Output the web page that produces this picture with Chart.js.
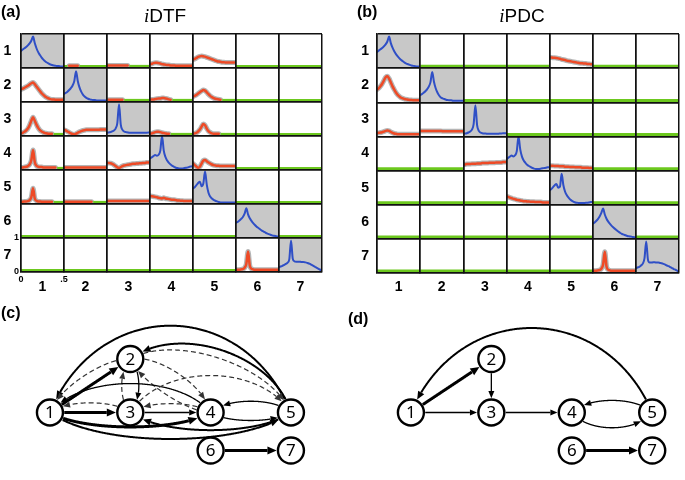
<!DOCTYPE html>
<html><head><meta charset="utf-8">
<title>iDTF and iPDC</title>
<script src="https://cdn.jsdelivr.net/npm/chart.js@4.4.1/dist/chart.umd.min.js"></script>
<style>
html,body{margin:0;padding:0;background:#fff}
body{position:relative;width:685px;height:480px;overflow:hidden;font-family:"Liberation Sans",Arial,sans-serif;color:#000}
canvas{position:absolute;display:block}
.pl{position:absolute;font-weight:bold;font-size:16px;line-height:16px;z-index:2}
.tt{position:absolute;font-size:19px;line-height:19px;text-align:center;z-index:2}
.tt i{font-family:"Liberation Serif",serif}
</style></head><body>
<canvas id="ca" width="335" height="300" style="left:0;top:0"></canvas>
<canvas id="cb" width="345" height="300" style="left:340px;top:0"></canvas>
<canvas id="cc" width="340" height="180" style="left:0;top:300px"></canvas>
<canvas id="cd" width="345" height="180" style="left:340px;top:300px"></canvas>
<div class="pl" style="left:1px;top:4px">(a)</div>
<div class="tt" style="left:0;top:6px;width:330px"><i>i</i>DTF</div>
<div class="pl" style="left:357px;top:4px">(b)</div>
<div class="tt" style="left:352px;top:6px;width:340px"><i>i</i>PDC</div>
<div class="pl" style="left:1px;top:305px">(c)</div>
<div class="pl" style="left:348px;top:311px">(d)</div>
<script>
// ---------- data ----------
const FREQ = [0,0.02,0.04,0.06,0.08,0.1,0.12,0.14,0.16,0.18,0.2,0.22,0.24,0.26,0.28,0.3,0.32,0.34,0.36,0.38,0.4,0.42,0.44,0.46,0.48,0.5];
const CHANNELS = ['1','2','3','4','5','6','7'];
const AXIS_TICKS_X = ['0', '.5'];
const AXIS_TICKS_Y = ['0', '1'];

// iDTF rows (cell = values over FREQ, null = not significant)
const DTF_ROW1 = [
  [0.48,0.52,0.56,0.6,0.65,0.71,0.79,0.92,0.72,0.56,0.44,0.35,0.27,0.21,0.16,0.12,0.09,0.06,0.04,0.03,0.02,0.01,0.01,0,0,0],
  [null,null,null,0.02,0.02,0.02,0.02,0.02,0.02],
  [0.03,0.03,0.03,0.03,0.03,0.03,0.03,0.03,0.03,0.03,0.03,0.03,0.03],
  [0.06,0.08,0.1,0.11,0.11,0.1,0.09,0.07,0.06,0.05,0.04,0.04,0.03,0.03,0.03,0.02,0.02,0.02,0.02,0.02,0.02,0.02,0.02,0.02,0.02,0.02],
  [0.21,0.23,0.26,0.29,0.31,0.32,0.31,0.3,0.28,0.26,0.24,0.22,0.2,0.18,0.16,0.15,0.14,0.13,0.13,0.12,0.12,0.12,0.12,0.12,0.12,0.12],
  null, null];
const DTF_ROW2 = [
  [0.34,0.36,0.39,0.42,0.45,0.49,0.53,0.55,0.5,0.43,0.36,0.29,0.22,0.17,0.12,0.09,0.06,0.04,0.03,0.03,0.02,0.02,0.02,0.02,0.02,0.02],
  [0.2,0.23,0.27,0.32,0.38,0.46,0.6,0.9,0.6,0.4,0.27,0.18,0.12,0.08,0.05,0.03,0.02,0.01,0.01,0,0,0,0,0,0,0],
  [null,0.02,0.02,0.02,0.02,0.02,0.02,0.02,0.02,0.02],
  [0.02,0.03,0.03,0.04,0.05,0.06,0.06,0.07,0.07,0.06,0.05,0.03,0.02],
  [0.12,0.14,0.17,0.21,0.25,0.29,0.32,0.3,0.25,0.19,0.14,0.1,0.07,0.05,0.04,0.03,0.02],
  null, null];
const DTF_ROW3 = [
  [0.03,0.05,0.08,0.12,0.18,0.28,0.42,0.53,0.42,0.3,0.2,0.13,0.09,0.06,0.04,0.03,0.02,0.02,0.02],
  [0.14,0.12,0.09,0.06,0.03,0.01,0,0.02,0.05,0.08,0.1,0.12,0.13,0.14,0.14,0.14,0.14,0.14,0.14,0.14,0.14,0.15,0.15,0.15,0.15,0.15],
  [0.05,0.06,0.07,0.09,0.12,0.18,0.35,0.93,0.3,0.14,0.09,0.07,0.06,0.05,0.05,0.05,0.05,0.05,0.05,0.05,0.05,0.05,0.05,0.05,0.06,0.06],
  [0.02,0.03,0.05,0.07,0.08,0.08,0.07,0.05,0.04,0.03,0.02,0.02],
  [0.02,0.03,0.05,0.09,0.15,0.24,0.32,0.28,0.18,0.1,0.06,0.03,0.02,0.02,0.02,0.02],
  null, null];
const DTF_ROW4 = [
  [0.03,0.03,0.04,0.05,0.07,0.12,0.25,0.57,0.2,0.08,0.05,0.04,0.04,0.03,0.03,0.03,0.03,0.03,0.03,0.03,0.03],
  [0.03,0.03,0.03,0.03,0.03,0.03,0.03,0.03,0.03,0.03,0.03,0.03,0.03,0.03,0.03,0.03,0.03,0.03,0.03,0.03,0.03,0.03,0.03,0.03,0.03,0.03],
  [0.17,0.17,0.16,0.14,0.11,0.07,0.03,0.01,0.04,0.07,0.09,0.1,0.11,0.12,0.13,0.14,0.14,0.15,0.15,0.16,0.16,0.17,0.17,0.18,0.18,0.18],
  [0.31,0.34,0.38,0.41,0.39,0.42,0.55,1.0,0.55,0.35,0.24,0.17,0.12,0.08,0.05,0.02,0.01,0,0,0,0.01,0.02,0.03,0.05,0.06,0.07],
  [0.15,0.1,0.05,0.02,0.05,0.15,0.24,0.26,0.22,0.18,0.15,0.12,0.1,0.09,0.08,0.08,0.07,0.07,0.07,0.07,0.07,0.07,0.07,0.07,0.07,0.07],
  null, null];
const DTF_ROW5 = [
  [0.02,0.02,0.03,0.03,0.04,0.07,0.16,0.44,0.12,0.05,0.03,0.03,0.02,0.02,0.02,0.02,0.02,0.02,0.02],
  [0.02,0.02,0.02,0.02,0.02,0.02,0.02,0.02,0.02,0.02,0.02,0.02,0.02,0.02,0.02,0.02,0.02],
  [0.04,0.04,0.04,0.04,0.04,0.04,0.04,0.04,0.04,0.04,0.04,0.04,0.04,0.04,0.04,0.04,0.04,0.04,0.04,0.04,0.04,0.04,0.04,0.04,0.04,0.04],
  [0.2,0.19,0.18,0.17,0.16,0.14,0.13,0.12,0.14,0.12,0.11,0.1,0.09,0.08,0.08,0.07,0.06,0.06,0.05,0.05,0.04,0.04,0.04,0.04,0.04,0.04],
  [0.43,0.47,0.53,0.6,0.64,0.5,0.58,0.95,0.55,0.3,0.18,0.12,0.08,0.05,0.03,0.01,0,0,0,0,0,0,0,0,0,0],
  null, null];
const DTF_ROW6 = [null, null, null, null, null,
  [0.42,0.45,0.49,0.54,0.6,0.7,0.87,0.68,0.56,0.48,0.41,0.35,0.3,0.26,0.22,0.18,0.15,0.12,0.09,0.07,0.05,0.03,0.02,0.01,0,0],
  null];
const DTF_ROW7 = [null, null, null, null, null,
  [0.02,0.02,0.02,0.03,0.04,0.08,0.2,0.58,0.15,0.05,0.03,0.02,0.02,0.02,0.02,0.02,0.02,0.02,0.02,0.02,0.02,0.02,0.02,0.02,0.02,0.02],
  [0.1,0.12,0.14,0.17,0.2,0.24,0.35,0.92,0.36,0.28,0.27,0.27,0.27,0.26,0.26,0.25,0.24,0.22,0.2,0.17,0.14,0.11,0.08,0.05,0.02,0]];

// iPDC rows
const PDC_ROW1 = [
  [0.45,0.49,0.53,0.57,0.62,0.68,0.77,0.92,0.72,0.58,0.47,0.38,0.31,0.25,0.2,0.16,0.12,0.09,0.07,0.05,0.03,0.02,0.01,0,0,0],
  null, null, null,
  [0.28,0.28,0.27,0.27,0.26,0.25,0.24,0.22,0.21,0.2,0.18,0.17,0.16,0.15,0.14,0.13,0.12,0.11,0.1,0.1,0.09,0.09,0.08,0.08,0.07,0.07],
  null, null];
const PDC_ROW2 = [
  [0.34,0.38,0.44,0.52,0.62,0.72,0.75,0.68,0.56,0.44,0.34,0.25,0.18,0.13,0.09,0.07,0.05,0.04,0.03,0.02,0.02,0.01,0.01,0.01,0.01,0.01],
  [0.17,0.2,0.24,0.29,0.35,0.43,0.57,0.88,0.58,0.38,0.25,0.16,0.1,0.07,0.05,0.03,0.02,0.01,0.01,0,0,0,0,0,0,0],
  null, null, null, null, null];
const PDC_ROW3 = [
  [0.05,0.06,0.07,0.08,0.1,0.12,0.13,0.12,0.09,0.06,0.04,0.03,0.02,0.02,0.02,0.02,0.02,0.02,0.02,0.02,0.02,0.02,0.02,0.02,0.02,0.02],
  [0.12,0.12,0.12,0.12,0.12,0.12,0.12,0.12,0.12,0.12,0.12,0.12,0.12,0.11,0.11,0.11,0.11,0.11,0.11,0.11,0.11,0.11,0.11,0.11,0.11,0.11],
  [0.03,0.04,0.05,0.07,0.1,0.16,0.33,0.91,0.3,0.12,0.07,0.05,0.04,0.04,0.03,0.03,0.03,0.03,0.03,0.03,0.03,0.04,0.04,0.05,0.05,0.05],
  null, null, null, null];
const PDC_ROW4 = [null, null,
  [0.14,0.14,0.15,0.15,0.15,0.16,0.16,0.16,0.17,0.17,0.17,0.18,0.18,0.18,0.18,0.19,0.19,0.19,0.19,0.2,0.2,0.2,0.2,0.21,0.21,0.21],
  [0.3,0.34,0.38,0.41,0.38,0.42,0.55,1.0,0.6,0.38,0.26,0.19,0.13,0.09,0.06,0.03,0.01,0,0,0,0.01,0.02,0.03,0.04,0.05,0.05],
  [0.1,0.1,0.1,0.09,0.09,0.09,0.08,0.08,0.08,0.07,0.07,0.07,0.06,0.06,0.06,0.05,0.05,0.05,0.05,0.04,0.04,0.04,0.04,0.03,0.03,0.03],
  null, null];
const PDC_ROW5 = [null, null, null,
  [0.21,0.19,0.17,0.15,0.13,0.12,0.1,0.09,0.08,0.07,0.06,0.06,0.05,0.05,0.04,0.04,0.04,0.03,0.03,0.03,0.03,0.02,0.02,0.02,0.02,0.02],
  [0.39,0.43,0.49,0.55,0.59,0.47,0.5,0.9,0.55,0.35,0.24,0.17,0.11,0.07,0.04,0.02,0.01,0,0,0,0,0.01,0.01,0.02,0.03,0.03],
  null, null];
const PDC_ROW6 = [null, null, null, null, null,
  [0.42,0.45,0.5,0.56,0.64,0.75,0.88,0.7,0.57,0.48,0.41,0.35,0.3,0.25,0.21,0.17,0.13,0.1,0.08,0.06,0.04,0.03,0.02,0.01,0,0],
  null];
const PDC_ROW7 = [null, null, null, null, null,
  [0.02,0.02,0.02,0.03,0.04,0.08,0.2,0.6,0.15,0.05,0.03,0.02,0.02,0.02,0.02,0.02,0.02,0.02,0.02,0.02,0.02,0.02,0.02,0.02,0.02,0.02],
  [0.1,0.12,0.14,0.18,0.24,0.4,0.92,0.36,0.27,0.27,0.28,0.28,0.27,0.27,0.26,0.25,0.23,0.21,0.18,0.16,0.13,0.1,0.07,0.05,0.02,0]];

// Network graphs (c) and (d)
const NODE_LABELS = ['1','2','3','4','5','6','7'];
const NODE_X = [0, 1, 1, 2, 3, 2, 3];
const NODE_Y = [0.52, 1.25, 0.52, 0.52, 0.52, 0, 0];
const EDGES_C = [[5,1],[5,2],[2,5],[2,4],[4,2],[2,1],[1,2],[2,3],[3,2],[4,1],[3,1],[1,3],[3,4],[4,3],[3,5],[5,4],[4,5],[1,4],[1,5],[5,3],[6,7]];
const EDGE_KIND_C = ['mid','mid','dash','dash','dash','dash','thick','thin','dash','thin','dash','thick','thin','dash','dash','thin','thin','thick','mid','mid','thick'];
const EDGES_D = [[5,1],[1,2],[2,3],[1,3],[3,4],[5,4],[4,5],[6,7]];
const EDGE_KIND_D = ['mid','thick','thin','thin','thin','thin','thin','thick'];

// ---------- styles / layout ----------
const EDGE_BEND_C = [-0.36,-0.22,0.17,0.15,0.1,-0.12,0,0.16,0.16,-0.18,-0.12,0,0,-0.11,0.23,-0.14,-0.1,-0.09,-0.11,0.11,0];
const EDGE_BEND_D = [-0.35,0,0,0,0,-0.15,-0.19,0];
const EDGE_STYLE = {
  thick: {w: 3, dash: [], color: '#000', al: 9, aw: 4},
  mid:   {w: 2, dash: [], color: '#000', al: 8, aw: 3.5},
  thin:  {w: 1.3, dash: [], color: '#000', al: 7, aw: 3},
  dash:  {w: 1.2, dash: [5, 3], color: '#333', al: 7, aw: 3}
};
const Y_MIN = -0.05, Y_MAX = 1;
const COL = {blue: '#2f4fc6', red: '#ee4a26', green: '#6cc81e', gray: '#c8c8c8', shadow: 'rgba(90,90,90,0.45)', line: '#111'};
const FAMILY = "'Liberation Sans', Arial, sans-serif";

function panelDatasets(rows, greenWidth) {
  const ds = [];
  const series = v => FREQ.map((f, i) => ({x: f, y: v[i] == null ? null : v[i]}));
  rows.forEach((row, r) => row.forEach((vals, c) => {
    const ax = {xAxisID: 'x' + (c + 1), yAxisID: 'y' + (r + 1)};
    const base = {showLine: true, pointRadius: 0, spanGaps: false, cubicInterpolationMode: 'monotone', borderCapStyle: 'round', borderJoinStyle: 'round'};
    if (r === c) {
      ds.push(Object.assign({}, ax, {data: [{x: FREQ[0], y: Y_MAX}, {x: FREQ[FREQ.length - 1], y: Y_MAX}],
        showLine: true, pointRadius: 0, borderWidth: 0, borderColor: 'rgba(0,0,0,0)', fill: 'start', backgroundColor: COL.gray, order: 4}));
      ds.push(Object.assign({}, base, ax, {data: series(vals), borderColor: COL.blue, borderWidth: 2, order: 0}));
    } else {
      const green = FREQ.map((f, i) => ({x: f, y: (vals && vals[i] != null) ? null : 0}));
      if (green.some(p => p.y !== null)) {
        ds.push(Object.assign({}, base, ax, {data: green, borderColor: COL.green, borderWidth: greenWidth, order: 2, cubicInterpolationMode: 'default', tension: 0, borderCapStyle: 'butt'}));
      }
      if (vals) {
        ds.push(Object.assign({}, base, ax, {data: series(vals), borderColor: COL.shadow, borderWidth: 5, order: 3}));
        ds.push(Object.assign({}, base, ax, {data: series(vals), borderColor: COL.red, borderWidth: 2.5, order: 1}));
      }
    }
  }));
  return ds;
}

function panelScales(o) {
  const scales = {};
  const gridColor = ctx => ctx.index === 1 ? 'rgba(0,0,0,0)' : COL.line;
  const yFont = ctx => ctx.index === 1 ? {family: FAMILY, size: 14, weight: 'bold'} : {family: FAMILY, size: 9, weight: 'bold'};
  const xFont = ctx => ctx.index === 1 ? {family: FAMILY, size: 14, weight: 'bold', lineHeight: o.bigLH} : {family: FAMILY, size: 9, weight: 'bold', lineHeight: 1.1};
  const n = CHANNELS.length;
  CHANNELS.forEach((name, k) => {
    scales['y' + (k + 1)] = {
      type: 'linear', axis: 'y', position: 'left', stack: 'rows', stackWeight: 1, weight: n - k,
      min: Y_MIN, max: Y_MAX,
      afterBuildTicks: s => { s.ticks = [{value: Y_MIN}, {value: (Y_MIN + Y_MAX) / 2}, {value: Y_MAX}]; },
      afterFit: s => { s.width = o.yWidth; },
      grid: {z: 1, drawTicks: false, color: gridColor, lineWidth: 1.5},
      border: {z: 1, color: COL.line, width: 1.5},
      ticks: {autoSkip: false, padding: o.yPad, color: '#000', font: yFont,
        callback: (v, i) => i === 1 ? name + o.rowPad : ((o.axisTicks && k === n - 1) ? AXIS_TICKS_Y[i === 0 ? 0 : 1] : '')}
    };
  });
  CHANNELS.forEach((name, k) => {
    scales['x' + (k + 1)] = {
      type: 'linear', axis: 'x', position: 'bottom', stack: 'cols', stackWeight: 1, weight: k + 1,
      min: FREQ[0], max: FREQ[FREQ.length - 1],
      afterBuildTicks: s => { s.ticks = [{value: FREQ[0]}, {value: (FREQ[0] + FREQ[FREQ.length - 1]) / 2}, {value: FREQ[FREQ.length - 1]}]; },
      afterFit: s => { s.height = o.xHeight; },
      grid: {z: 1, drawTicks: false, color: gridColor, lineWidth: 1.5},
      border: {z: 1, color: COL.line, width: 1.5},
      ticks: {autoSkip: false, maxRotation: 0, minRotation: 0, padding: 3, color: '#000', font: xFont,
        callback: (v, i) => i === 1 ? name : ((o.axisTicks && k === 0) ? AXIS_TICKS_X[i === 0 ? 0 : 1] : '')}
    };
  });
  return scales;
}

function gridChart(id, rows, o) {
  return new Chart(document.getElementById(id), {
    type: 'scatter',
    data: {datasets: panelDatasets(rows, o.greenWidth)},
    options: {
      responsive: false, animation: false, events: [],
      layout: {padding: {left: 0, top: o.top, right: o.right, bottom: 0}},
      plugins: {legend: {display: false}, tooltip: {enabled: false}, title: {display: false}},
      scales: panelScales(o)
    }
  });
}

gridChart('ca', [DTF_ROW1, DTF_ROW2, DTF_ROW3, DTF_ROW4, DTF_ROW5, DTF_ROW6, DTF_ROW7],
  {top: 34, right: 13, yWidth: 21, xHeight: 28, yPad: 2, rowPad: '  ', axisTicks: true, bigLH: 1.79, greenWidth: 3});
gridChart('cb', [PDC_ROW1, PDC_ROW2, PDC_ROW3, PDC_ROW4, PDC_ROW5, PDC_ROW6, PDC_ROW7],
  {top: 34, right: 6, yWidth: 37, xHeight: 27, yPad: 8, rowPad: '', axisTicks: false, bigLH: 1.53, greenWidth: 3.5});

// ---------- network graphs ----------
const NODE_R = 13, NODE_BW = 2.4, CTRL_T = 0.2;
function bez(p0, c1, c2, p1, t) {
  const u = 1 - t;
  return {x: u*u*u*p0.x + 3*u*u*t*c1.x + 3*u*t*t*c2.x + t*t*t*p1.x,
          y: u*u*u*p0.y + 3*u*u*t*c1.y + 3*u*t*t*c2.y + t*t*t*p1.y};
}
function netPlugin(edges, kinds, bends) {
  return {
    id: 'net',
    beforeDatasetsDraw(chart) {
      const ctx = chart.ctx, xs = chart.scales.x, ys = chart.scales.y;
      const R = NODE_R + NODE_BW / 2;
      const P = k => ({x: xs.getPixelForValue(NODE_X[k - 1]), y: ys.getPixelForValue(NODE_Y[k - 1])});
      edges.forEach((e, i) => {
        const st = EDGE_STYLE[kinds[i]];
        const p0 = P(e[0]), p1 = P(e[1]);
        const dx = p1.x - p0.x, dy = p1.y - p0.y, L = Math.hypot(dx, dy);
        const nx = dy / L, ny = -dx / L, H = bends[i] * L * 4 / 3;
        const c1 = {x: p0.x + CTRL_T * dx + nx * H, y: p0.y + CTRL_T * dy + ny * H};
        const c2 = {x: p0.x + (1 - CTRL_T) * dx + nx * H, y: p0.y + (1 - CTRL_T) * dy + ny * H};
        const N = 300, pts = [];
        for (let j = 0; j <= N; j++) pts.push(bez(p0, c1, c2, p1, j / N));
        const d0 = p => Math.hypot(p.x - p0.x, p.y - p0.y), d1 = p => Math.hypot(p.x - p1.x, p.y - p1.y);
        let js = 0; while (js < N && d0(pts[js]) < R) js++;
        let jt = N; while (jt > 0 && d1(pts[jt]) < R) jt--;
        let jb = jt; while (jb > 0 && d1(pts[jb]) < R + st.al) jb--;
        const tip = pts[jt], b = pts[jb];
        let vx = b.x - tip.x, vy = b.y - tip.y; const vl = Math.hypot(vx, vy) || 1; vx /= vl; vy /= vl;
        ctx.save();
        ctx.strokeStyle = st.color; ctx.fillStyle = st.color; ctx.lineWidth = st.w; ctx.lineJoin = 'round';
        ctx.setLineDash(st.dash);
        ctx.beginPath(); ctx.moveTo(pts[js].x, pts[js].y);
        for (let j = js + 1; j <= jb; j++) ctx.lineTo(pts[j].x, pts[j].y);
        ctx.stroke();
        ctx.setLineDash([]);
        ctx.beginPath(); ctx.moveTo(tip.x, tip.y);
        ctx.lineTo(b.x - vy * st.aw, b.y + vx * st.aw);
        ctx.lineTo(b.x + vy * st.aw, b.y - vx * st.aw);
        ctx.closePath(); ctx.fill();
        ctx.restore();
      });
    },
    afterDatasetsDraw(chart) {
      const ctx = chart.ctx, xs = chart.scales.x, ys = chart.scales.y;
      ctx.save();
      ctx.fillStyle = '#000'; ctx.font = "17px 'Noto Sans', 'Open Sans', sans-serif";
      ctx.textAlign = 'center'; ctx.textBaseline = 'middle';
      NODE_LABELS.forEach((t, k) => ctx.fillText(t, xs.getPixelForValue(NODE_X[k]), ys.getPixelForValue(NODE_Y[k]) + 1));
      ctx.restore();
    }
  };
}

function netChart(id, edges, kinds, bends, xr, yr) {
  return new Chart(document.getElementById(id), {
    type: 'scatter',
    data: {datasets: [{data: NODE_X.map((x, i) => ({x: x, y: NODE_Y[i]})), pointRadius: NODE_R, pointBorderWidth: NODE_BW,
      pointBackgroundColor: '#fff', pointBorderColor: '#000', showLine: false, clip: false}]},
    options: {
      responsive: false, animation: false, events: [],
      layout: {padding: 0},
      plugins: {legend: {display: false}, tooltip: {enabled: false}},
      scales: {x: {type: 'linear', display: false, min: xr[0], max: xr[1]}, y: {type: 'linear', display: false, min: yr[0], max: yr[1]}}
    },
    plugins: [netPlugin(edges, kinds, bends)]
  });
}
netChart('cc', EDGES_C, EDGE_KIND_C, EDGE_BEND_C, [-0.43, 3.419], [-0.192, 1.846]);
netChart('cd', EDGES_D, EDGE_KIND_D, EDGE_BEND_D, [-0.69, 3.216], [-0.192, 1.846]);
</script>
</body></html>
